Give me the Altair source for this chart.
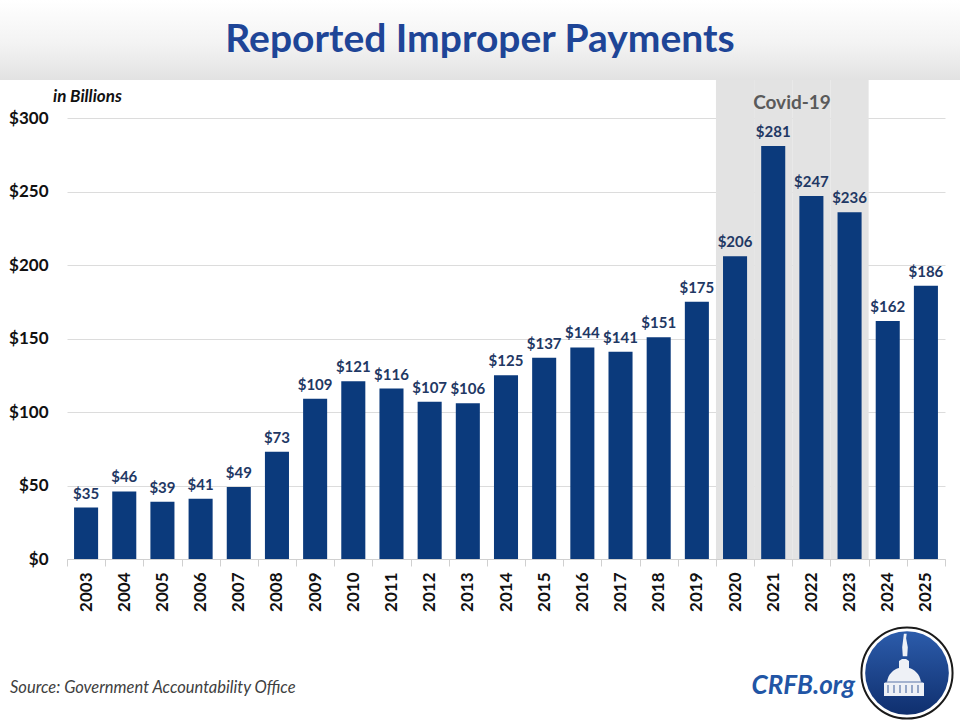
import altair as alt
import pandas as pd

# Reported improper payments, billions of dollars, by fiscal year
years = ["2003", "2004", "2005", "2006", "2007", "2008", "2009", "2010", "2011",
         "2012", "2013", "2014", "2015", "2016", "2017", "2018", "2019", "2020",
         "2021", "2022", "2023", "2024", "2025"]
payments = [35, 46, 39, 41, 49, 73, 109, 121, 116, 107, 106, 125, 137, 144,
            141, 151, 175, 206, 281, 247, 236, 162, 186]
covid_years = ["2020", "2021", "2022", "2023"]
y_ticks = [0, 50, 100, 150, 200, 250, 300]

Y_MAX = 326
W, H = 878, 479
FONT = "Lato"
BAR = "#0b3a7c"
LABEL = "#1f3864"

df = pd.DataFrame({"year": years, "value": payments})
df["label"] = ["$" + str(v) for v in payments]
df["covid"] = df["year"].isin(covid_years)
df["top"] = Y_MAX
df["zero"] = 0

one = pd.DataFrame({"k": [0]})

x_enc = alt.X(
    "year:N",
    sort=years,
    scale=alt.Scale(paddingInner=0, paddingOuter=0),
    axis=alt.Axis(
        title=None, labelAngle=270, labelFont=FONT, labelFontSize=17,
        labelFontWeight="bold", labelColor="#111111", labelPadding=6,
        tickBand="extent", tickColor="#d0d0d0", tickSize=7,
        domainColor="#d0d0d0", grid=False,
    ),
)
y_scale = alt.Scale(domain=[0, Y_MAX], nice=False)
y_axis = alt.Axis(
    title=None, values=y_ticks, labelExpr="'$' + datum.value", labelFont=FONT,
    labelFontSize=17, labelFontWeight="bold", labelColor="#111111",
    labelPadding=19, ticks=False, domain=False, gridColor="#dcdcdc",
)

base = alt.Chart(df)

# header band with a soft grey gradient
header = alt.Chart(one).mark_rect(
    color=alt.Gradient(
        gradient="linear",
        stops=[alt.GradientStop(color="#ffffff", offset=0),
               alt.GradientStop(color="#f3f3f3", offset=0.55),
               alt.GradientStop(color="#e2e2e2", offset=1)],
        x1=0, x2=0, y1=0, y2=1,
    )
).encode(x=alt.value(-67), x2=alt.value(893), y=alt.value(-80), y2=alt.value(0))

covid_band = base.transform_filter("datum.covid").mark_bar(
    color="#e3e3e3"
).encode(x=x_enc, y=alt.Y("top:Q", scale=y_scale, axis=y_axis), y2="zero:Q")

bars = base.mark_bar(color=BAR, width=alt.RelativeBandSize(0.63)).encode(
    x=x_enc, y=alt.Y("value:Q", scale=y_scale, axis=y_axis)
)

labels = base.mark_text(
    font=FONT, fontSize=15, fontWeight="bold", color=LABEL,
    baseline="bottom", dy=-6,
).encode(x=x_enc, y=alt.Y("value:Q", scale=y_scale), text="label:N")

covid_text = alt.Chart(one).mark_text(
    text="Covid-19", font=FONT, fontSize=19, fontWeight="bold", color="#5a5a5a",
).encode(x=alt.value(725), y=alt.value(23))

title = alt.Chart(one).mark_text(
    text="Reported Improper Payments", font=FONT, fontSize=39,
    fontWeight="bold", color="#1e4597",
).encode(x=alt.value(413), y=alt.value(-40))

units = alt.Chart(one).mark_text(
    text="in Billions", font=FONT, fontSize=17, fontWeight="bold",
    fontStyle="italic", color="#111111", align="left",
).encode(x=alt.value(-14), y=alt.value(17))

source = alt.Chart(one).mark_text(
    text="Source: Government Accountability Office", font=FONT, fontSize=16.5,
    fontStyle="italic", color="#404040", align="left",
).encode(x=alt.value(-57), y=alt.value(608))

site = alt.Chart(one).mark_text(
    text="CRFB.org", font=FONT, fontSize=26, fontWeight="bold",
    fontStyle="italic", color="#2155a5", align="right",
).encode(x=alt.value(788), y=alt.value(606))

# round badge with a capitol dome
ring = alt.Chart(one).mark_point(
    shape="circle", size=8300, filled=True, color="#ffffff",
    stroke="#1a1a1a", strokeWidth=2, opacity=1,
).encode(x=alt.value(840), y=alt.value(593))
disc = alt.Chart(one).mark_point(
    shape="circle", size=7000, filled=True, opacity=1,
    color=alt.Gradient(
        gradient="linear",
        stops=[alt.GradientStop(color="#2c5cab", offset=0),
               alt.GradientStop(color="#0f2f6e", offset=1)],
        x1=0, x2=0, y1=0, y2=1,
    ),
).encode(x=alt.value(840), y=alt.value(593))
capitol = alt.Chart(one).mark_point(
    shape=("M-1,0.9 L1,0.9 L1,0.25 L0.85,0.2 C0.8,-0.2 0.5,-0.45 0.25,-0.5 "
           "L0.25,-0.85 L0.1,-0.95 L-0.1,-0.95 L-0.25,-0.85 L-0.25,-0.5 "
           "C-0.5,-0.45 -0.8,-0.2 -0.85,0.2 L-1,0.25 Z"),
    size=1600, filled=True, color="#eef1f6", opacity=1,
).encode(x=alt.value(837), y=alt.value(598))
columns = alt.Chart(one).mark_point(
    shape=("M-0.8,0.75 L-0.8,0.35 M-0.5,0.75 L-0.5,0.35 M-0.2,0.75 L-0.2,0.35 "
           "M0.1,0.75 L0.1,0.35 M0.4,0.75 L0.4,0.35 M0.7,0.75 L0.7,0.35 "
           "M-0.9,0.2 L0.9,0.2"),
    size=1600, filled=False, stroke="#5a76a8", strokeWidth=1.2, opacity=1,
).encode(x=alt.value(837), y=alt.value(598))
statue = alt.Chart(one).mark_point(
    shape="M-0.2,1 L0.2,1 L0.25,0.2 L0.1,-0.6 L0.15,-1 L-0.1,-1 L-0.15,-0.6 L-0.25,0.2 Z",
    size=500, filled=True, color="#eef1f6", opacity=1,
).encode(x=alt.value(838), y=alt.value(565))

chart = alt.layer(
    header, covid_band, bars, labels, covid_text, title, units, source, site,
    ring, disc, capitol, columns, statue,
).properties(
    width=W, height=H,
    autosize=alt.AutoSizeParams(type="none"),
    padding={"left": 67, "top": 80, "right": 15, "bottom": 161},
    background="#ffffff",
).configure_view(stroke=None)

chart.save("out.html", embed_options={"renderer": "svg", "actions": False})
